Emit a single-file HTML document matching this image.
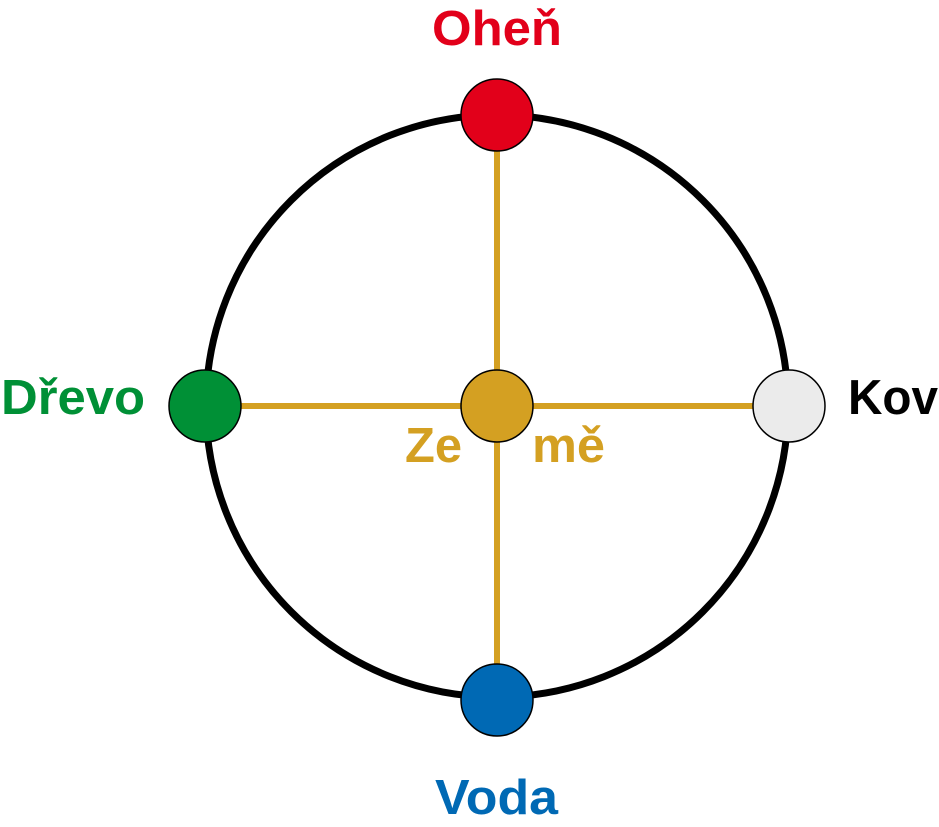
<!DOCTYPE html>
<html><head><meta charset="utf-8"><style>
html,body{margin:0;padding:0;background:#fff;}
svg{display:block;}
text{font-family:"Liberation Sans",sans-serif;font-weight:bold;font-size:49px;}
</style></head><body>
<svg width="939" height="827" viewBox="0 0 939 827" xmlns="http://www.w3.org/2000/svg">
<circle cx="497" cy="406" r="291" fill="none" stroke="#000" stroke-width="7"/>
<line x1="497" y1="115" x2="497" y2="700" stroke="#d4a022" stroke-width="6"/>
<line x1="205" y1="406" x2="789" y2="406" stroke="#d4a022" stroke-width="6"/>
<circle cx="497" cy="115" r="36" fill="#e2001a" stroke="#000" stroke-width="1.5"/>
<circle cx="205" cy="406" r="36" fill="#009036" stroke="#000" stroke-width="1.5"/>
<circle cx="789" cy="406" r="36" fill="#ebebeb" stroke="#000" stroke-width="1.5"/>
<circle cx="497" cy="700" r="36" fill="#0069b4" stroke="#000" stroke-width="1.5"/>
<circle cx="497" cy="406" r="36" fill="#d4a022" stroke="#000" stroke-width="1.5"/>
<text x="432" y="45" textLength="130" lengthAdjust="spacingAndGlyphs" fill="#e2001a">Oheň</text>
<text x="1" y="414" textLength="144" lengthAdjust="spacingAndGlyphs" fill="#009036">Dřevo</text>
<text x="848" y="414" textLength="90" lengthAdjust="spacingAndGlyphs" fill="#000">Kov</text>
<text x="435" y="814" textLength="123" lengthAdjust="spacingAndGlyphs" fill="#0069b4">Voda</text>
<text x="405" y="462" textLength="57" lengthAdjust="spacingAndGlyphs" fill="#d4a022">Ze</text>
<text x="532" y="462" textLength="73" lengthAdjust="spacingAndGlyphs" fill="#d4a022">mě</text>
</svg>
</body></html>
